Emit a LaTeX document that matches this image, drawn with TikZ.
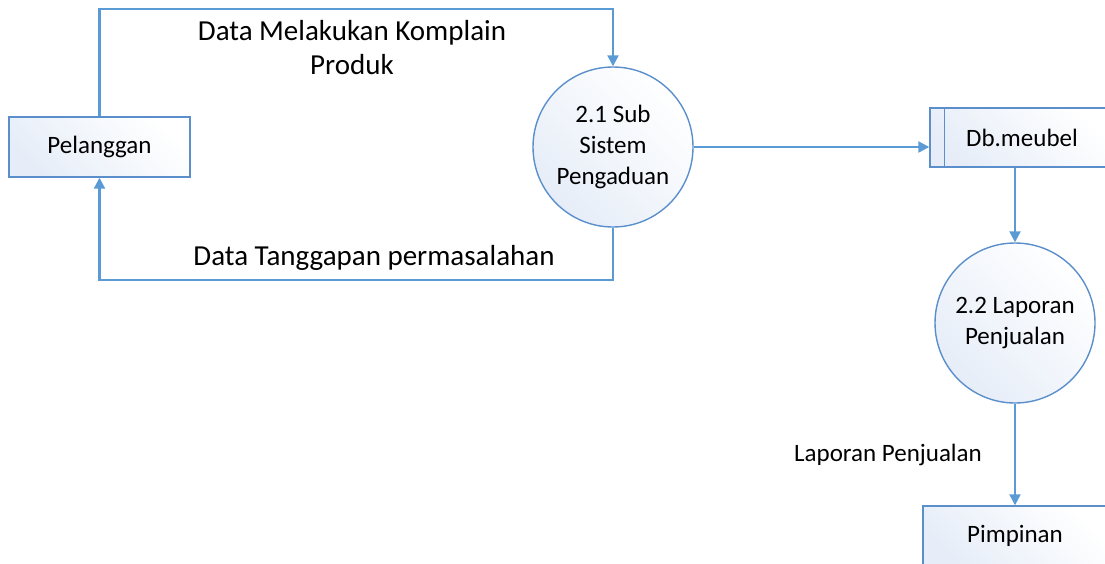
\documentclass[tikz,border=0pt]{standalone}
\usepackage{fontspec}
\setmainfont{Carlito}
\usetikzlibrary{arrows.meta}
\definecolor{flowblue}{HTML}{5B9BD5}
\definecolor{edgeblue}{HTML}{5A8FCB}
\definecolor{tint}{HTML}{E6EDF8}
\tikzset{
  shapefill/.style={draw=edgeblue, line width=1.4pt, shading=axis,
    top color=white, bottom color=tint, shading angle=-45},
  entity/.style={shapefill, rectangle, minimum width=181pt, minimum height=60pt,
    inner sep=0pt, font=\fontsize{25}{31}\selectfont},
  process/.style={shapefill, circle, minimum size=160pt, inner sep=0pt,
    align=center, font=\fontsize{25}{31}\selectfont},
  flow/.style={draw=flowblue, line width=2.2pt,
    -{Triangle[width=11pt,length=11pt]}},
  flowlabel/.style={inner sep=0pt, align=center, font=\fontsize{29}{34}\selectfont},
  smalllabel/.style={inner sep=0pt, font=\fontsize{25}{31}\selectfont},
}
\begin{document}
\begin{tikzpicture}[x=1pt, y=-1pt]
\useasboundingbox (0,0) rectangle (1105,563);
\clip (0,0) rectangle (1105,563);

% external entities
\node[entity] (pel) at (99.5,147) {Pelanggan};
\node[entity, minimum width=184pt] (pim) at (1015,536) {Pimpinan};

% data store with its side strip
\node[entity, minimum width=184pt, minimum height=59pt] (db) at (1022,137.5) {Db.meubel};
\draw[edgeblue, line width=1.4pt] ([xshift=15pt]db.north west) -- ([xshift=15pt]db.south west);

% processes
\node[process] (s21) at (613,147) {2.1 Sub\\Sistem\\Pengaduan};
\node[process] (s22) at (1015,323) {2.2 Laporan\\Penjualan};

% routing levels for the loop around the complaint process
\coordinate (toprow) at (0,9);
\coordinate (botrow) at (0,280);

% flows
\draw[flow] (pel.north) -- (pel.north |- toprow) -| (s21.north);
\draw[flow] (s21.south) -- (s21.south |- botrow) -| (pel.south);
\draw[flow] (s21.east) -- (s21.east -| db.west);
\draw[flow] (s22.north |- db.south) -- (s22.north);
\draw[flow] (s22.south) -- (pim.north);

% flow labels
\node[flowlabel] (lkompl) at (352,48) {Data Melakukan Komplain\\Produk};
\node[flowlabel] (ltangg) at (374,258) {Data Tanggapan permasalahan};
\node[smalllabel] (llap) at (888,455) {Laporan Penjualan};
\end{tikzpicture}
\end{document}
